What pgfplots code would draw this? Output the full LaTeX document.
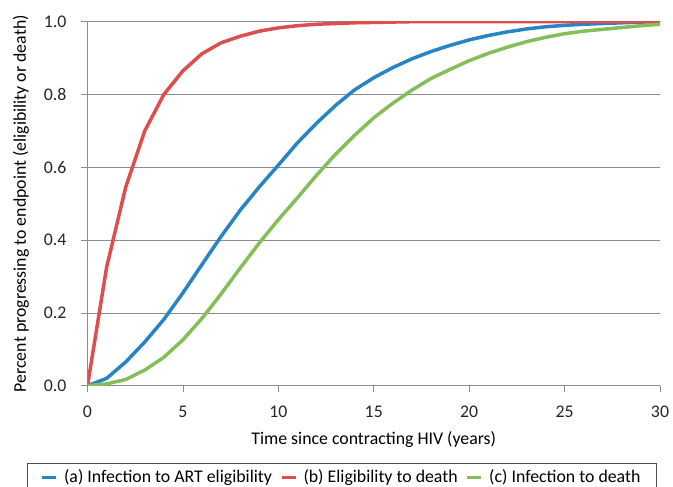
\documentclass[border=0pt]{standalone}
\usepackage{fontspec}
\setmainfont{Carlito}
\usepackage{pgfplots}
\pgfplotsset{compat=1.18}
\definecolor{cblue}{RGB}{40,132,197}
\definecolor{cred}{RGB}{222,78,78}
\definecolor{cgreen}{RGB}{132,190,88}
\definecolor{gridgray}{RGB}{140,140,140}
\begin{document}
\fontsize{17.8bp}{21bp}\selectfont
\begin{tikzpicture}
\useasboundingbox (-87.5bp,-101.3bp) rectangle (585.5bp,385.7bp);
\begin{axis}[
  at={(0,0)}, anchor=south west,
  scale only axis, width=572.5bp, height=364bp,
  xmin=0, xmax=30, ymin=0, ymax=1,
  xtick={0,5,...,30}, ytick={0,0.2,...,1.0},
  yticklabel style={/pgf/number format/fixed, /pgf/number format/fixed zerofill, /pgf/number format/precision=1, xshift=-9bp},
  /pgf/number format/assume math mode=true,
  ymajorgrids, major grid style={gridgray, line width=0.8bp},
  axis line style={gridgray, line width=0.8bp},
  axis x line*=bottom, axis y line*=left,
  tick align=outside, major tick length=6bp,
  tick style={gridgray, line width=0.8bp},
  xtick pos=bottom, ytick pos=left,
  tick label style={font=\fontsize{17.8bp}{21bp}\selectfont, text=black!85},
  xticklabel style={yshift=-8bp},
  label style={font=\fontsize{17.8bp}{21bp}\selectfont, text=black!85},
  xlabel={Time since contracting HIV (years)},
  ylabel={Percent progressing to endpoint (eligibility or death)},
  every axis x label/.style={at={(axis description cs:0.5,-0.149)}, anchor=center},
  every axis y label/.style={at={(axis description cs:-0.1162,0.5)}, rotate=90, anchor=center},
  legend columns=-1,
  legend style={at={(0.4437,-0.2124)}, anchor=north, draw=black!70, line width=0.8bp,
    font=\fontsize{17.8bp}{21bp}\selectfont, inner xsep=13.5bp, inner ysep=4bp,
    /tikz/every odd column/.append style={column sep=4bp},
    /tikz/every even column/.append style={column sep=6bp}},
  legend image code/.code={\draw[#1, line width=3.5bp] (0bp,0bp) -- (14bp,0bp);},
  every axis plot/.append style={line width=3.5bp, line join=round},
]
\addplot[cblue] coordinates {
(0,0) (1,0.02) (2,0.065) (3,0.12) (4,0.182) (5,0.255) (6,0.333) (7,0.41) (8,0.482) (9,0.546) (10,0.606)
(11,0.667) (12,0.721) (13,0.77) (14,0.813) (15,0.846) (16,0.874) (17,0.898) (18,0.918) (19,0.935) (20,0.95)
(21,0.962) (22,0.972) (23,0.98) (24,0.986) (25,0.99) (26,0.993) (27,0.995) (28,0.997) (29,0.999) (30,1.0)};
\addlegendentry{(a) Infection to ART eligibility}
\addplot[cred] coordinates {
(0,0) (1,0.325) (2,0.545) (3,0.70) (4,0.80) (5,0.865) (6,0.912) (7,0.942) (8,0.96) (9,0.974) (10,0.983)
(11,0.989) (12,0.993) (13,0.995) (14,0.997) (15,0.998) (16,0.999) (17,1) (18,1) (19,1) (20,1)
(21,1) (22,1) (23,1) (24,1) (25,1) (26,1) (27,1) (28,1) (29,1) (30,1)};
\addlegendentry{(b) Eligibility to death}
\addplot[cgreen] coordinates {
(0,0) (1,0.005) (2,0.017) (3,0.043) (4,0.078) (5,0.126) (6,0.185) (7,0.252) (8,0.323) (9,0.392) (10,0.456)
(11,0.516) (12,0.578) (13,0.636) (14,0.688) (15,0.736) (16,0.776) (17,0.812) (18,0.844) (19,0.869) (20,0.893)
(21,0.913) (22,0.93) (23,0.945) (24,0.957) (25,0.967) (26,0.974) (27,0.979) (28,0.984) (29,0.989) (30,0.993)};
\addlegendentry{(c) Infection to death}
\end{axis}
\end{tikzpicture}
\end{document}
